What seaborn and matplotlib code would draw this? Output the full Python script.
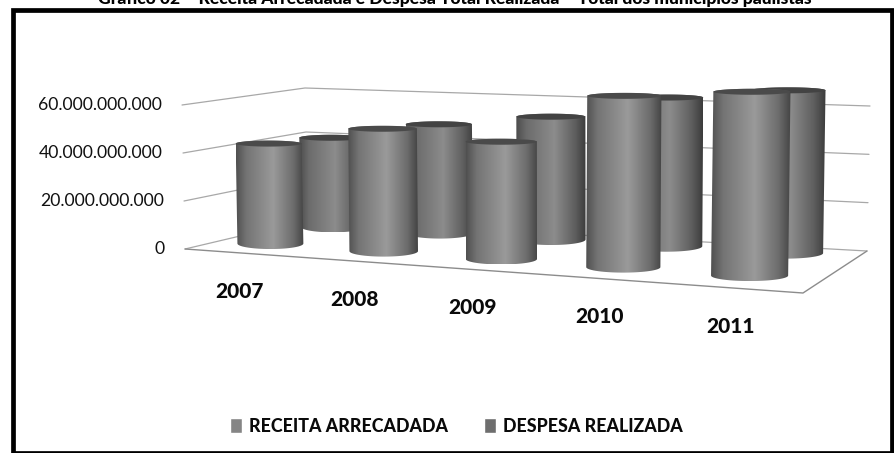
"""
Gráfico 02 - pseudo 3D cylinder chart
seaborn computes the bars, they are then projected on a perspective floor
"""

import numpy as np
import pandas as pd
import matplotlib
matplotlib.use("Agg")
import matplotlib.pyplot as plt
from matplotlib.colors import LinearSegmentedColormap
from matplotlib.patches import PathPatch, Rectangle
from matplotlib.path import Path
import seaborn as sns

# ── data ──────────────────────────────────────────────
YEARS = ["2007", "2008", "2009", "2010", "2011"]
RECEITA = [41.6e9, 48.0e9, 43.4e9, 59.9e9, 60.8e9]
DESPESA = [39.5e9, 46.9e9, 51.5e9, 60.6e9, 64.5e9]
SERIES_NAMES = ["RECEITA ARRECADADA", "DESPESA REALIZADA"]
Y_TICKS = [0, 20e9, 40e9, 60e9]
Y_TICK_LABELS = ["0", "20.000.000.000", "40.000.000.000", "60.000.000.000"]
TITLE = "Gráfico 02 – Receita Arrecadada e Despesa Total Realizada – Total dos municípios paulistas"

# ── layout of the fake 3D box, in image pixels ────────
FLOOR_FL = np.array([185.0, 249.0])
FLOOR_FR = np.array([803.0, 293.0])
FLOOR_BL = np.array([308.0, 220.0])
FLOOR_BR = np.array([867.0, 251.0])
# pixels for 60 bn at each floor corner: FL, FR, BL, BR
SCALE_60 = [144.0, 205.0, 132.0, 145.0]
WIDTHS = [66.0, 80.0, 62.0, 76.0]
ROW_T = [0.088, 0.083]
ROW_V = [0.30, 0.85]
WARP = 0.09
YEAR_DX = [5, 3, 0, 1, 2]
YEAR_DY = 38.5

FONT = ["Lato", "DejaVu Sans"]


def row_u(row, i):
    """across-floor position of a category, squeezed a bit by the perspective"""
    t = ROW_T[row] + 0.2 * i
    return t - WARP * t * (1 - t)


def blend(corners, u, v):
    fl, fr, bl, br = corners
    return (1 - v) * (fl + (fr - fl) * u) + v * (bl + (br - bl) * u)


def project(u, v, value=0.0):
    """floor position + value -> image pixel"""
    xy = blend([FLOOR_FL, FLOOR_FR, FLOOR_BL, FLOOR_BR], u, v)
    h = value / 60e9
    return np.array([xy[0] + (-3 + 6 * u) * h, xy[1] - blend(SCALE_60, u, v) * h])


def half_ellipse(cx, cy, a, b, lower=True, n=40):
    t = np.linspace(np.pi, 0, n)
    sign = 1 if lower else -1
    return np.column_stack([cx + a * np.cos(t), cy + sign * b * np.sin(t)])


def draw_cylinder(ax, u, v, value, cmap, top_color, z):
    base = project(u, v)
    top = project(u, v, value)
    a = blend(WIDTHS, u, v) / 2
    b_low, b_top = 5.5, 3.0

    lower = half_ellipse(base[0], base[1], a, b_low, lower=True)
    upper = half_ellipse(top[0], top[1], a, b_top, lower=False)[::-1]
    outline = Path(np.vstack([lower, upper, lower[:1]]))

    x0, x1 = outline.vertices[:, 0].min(), outline.vertices[:, 0].max()
    y0, y1 = outline.vertices[:, 1].min(), outline.vertices[:, 1].max()
    im = ax.imshow(np.linspace(0, 1, 128).reshape(1, -1), cmap=cmap, vmin=0, vmax=1,
                   extent=(x0, x1, y1, y0), aspect="auto", zorder=z, interpolation="bilinear")
    im.set_clip_path(PathPatch(outline, transform=ax.transData))

    t = np.linspace(0, 2 * np.pi, 60)
    ax.fill(top[0] + a * np.cos(t), top[1] + b_top * np.sin(t), color=top_color, lw=0, zorder=z + 0.01)


sns.set_theme(style="white")
plt.rcParams["font.family"] = FONT

fig = plt.figure(figsize=(8.95, 4.53), dpi=100, facecolor="white")

# hidden axes: seaborn does the bars and the legend handles
ax_data = fig.add_axes([0, 0, 1, 1])
df = pd.DataFrame({
    "ano": YEARS * 2,
    "valor": RECEITA + DESPESA,
    "serie": [SERIES_NAMES[0]] * len(YEARS) + [SERIES_NAMES[1]] * len(YEARS),
})
sns.barplot(data=df, x="ano", y="valor", hue="serie", dodge=False,
            palette=["#858585", "#6e6e6e"], ax=ax_data, saturation=1)
handles, labels = ax_data.get_legend_handles_labels()
ax_data.get_legend().remove()
bars = [[(p.get_x() + p.get_width() / 2, p.get_height()) for p in c] for c in ax_data.containers]
ax_data.set_visible(False)

# overlay in image pixels
ax = fig.add_axes([0, 0, 1, 1])
ax.set_axis_off()

# walls
for tick in Y_TICKS:
    pts = np.array([project(0, 0, tick), project(0, 1, tick), project(1, 1, tick)])
    ax.plot(pts[:, 0], pts[:, 1], color="#a8a8a8", lw=0.9, zorder=1)

# floor edges
floor = np.array([project(0, 0), project(1, 0), project(1, 1)])
ax.plot(floor[:, 0], floor[:, 1], color="#8c8c8c", lw=1.0, zorder=1.5)

cmap_front = LinearSegmentedColormap.from_list("front", [
    (0.0, "#505050"), (0.15, "#747474"), (0.55, "#9a9a9a"), (0.85, "#6c6c6c"), (1.0, "#444444")])
cmap_back = LinearSegmentedColormap.from_list("back", [
    (0.0, "#4c4c4c"), (0.15, "#6c6c6c"), (0.55, "#8c8c8c"), (0.85, "#5e5e5e"), (1.0, "#3c3c3c")])

# back row first, then the front row from left to right
for row, cmap, top_color, z in [(1, cmap_back, "#434343", 2), (0, cmap_front, "#4a4a4a", 3)]:
    for x_center, value in bars[row]:
        i = round(x_center)
        draw_cylinder(ax, row_u(row, i), ROW_V[row], value, cmap, top_color, z + 0.05 * i)

# tick labels
for tick, label in zip(Y_TICKS, Y_TICK_LABELS):
    p = project(0, 0, tick)
    ax.text(p[0] - 20, p[1], label, ha="right", va="center", fontsize=12.7, color="#111111")

# year labels under the front edge
for i, year in enumerate(YEARS):
    p = project(row_u(0, i), 0)
    ax.text(p[0] + YEAR_DX[i], p[1] + YEAR_DY, year, ha="center", va="center",
            fontsize=15, fontweight="black", color="#0a0a0a")

# frame and title
ax.add_patch(Rectangle((13.5, 9.5), 879, 443, fill=False, ec="black", lw=3.4, zorder=6))
ax.text(455, 4, TITLE, ha="center", va="baseline", fontsize=12.6, fontweight="black", color="black")

ax.set_xlim(0, 895)
ax.set_ylim(453, 0)

leg = fig.legend(handles, labels, ncol=2, loc="center", bbox_to_anchor=(456.5 / 895, 1 - 426 / 453),
                 frameon=False, handlelength=0.68, handleheight=0.9, handletextpad=0.4,
                 columnspacing=2.0, prop={"family": FONT, "weight": "black", "size": 12.8})
for t in leg.get_texts():
    t.set_color("#0a0a0a")

fig.savefig("out.png", dpi=100)
